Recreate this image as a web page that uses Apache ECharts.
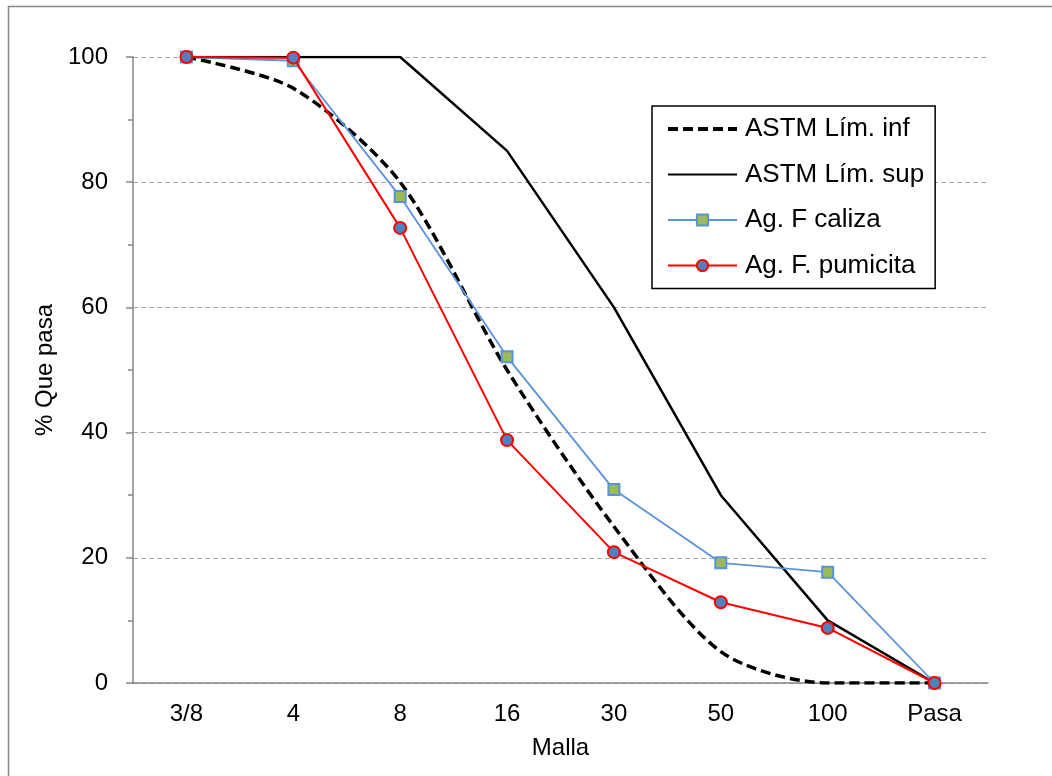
<!DOCTYPE html>
<html lang="es">
<head>
    <meta charset="UTF-8">
    <title>Granulometría</title>
    <script type="text/javascript" src="https://cdn.jsdelivr.net/npm/echarts@6/dist/echarts.min.js"></script>
</head>
<body style="margin:0;background:#fff;">
    <div id="main" style="width: 1052px;height:776px;"></div>
    <script type="text/javascript">
        // datos
        var mallas = ['3/8', '4', '8', '16', '30', '50', '100', 'Pasa'];
        var limInf = [100, 95, 80, 50, 25, 5, 0, 0];
        var limSup = [100, 100, 100, 85, 60, 30, 10, 0];
        var caliza = [100, 99.4, 77.7, 52.1, 30.9, 19.2, 17.7, 0];
        var pumicita = [100, 99.9, 72.7, 38.8, 20.9, 12.9, 8.8, 0];

        var myChart = echarts.init(document.getElementById('main'));

        var fuente = 'Liberation Sans, Arial, sans-serif';

        var option = {
            backgroundColor: '#fff',
            animation: false,
            textStyle: { fontFamily: fuente },
            graphic: [{
                type: 'rect',
                shape: { x: 8.5, y: 6.5, width: 1100, height: 1100 },
                style: { fill: 'none', stroke: '#898989', lineWidth: 1.5 },
                silent: true
            }],
            grid: { left: 133, right: 64, top: 57, bottom: 93 },
            legend: {
                orient: 'vertical',
                left: 652,
                top: 106,
                width: 285,
                padding: [8, 11, 8, 14],
                itemWidth: 69,
                itemHeight: 14,
                itemGap: 15.5,
                borderColor: '#000',
                borderWidth: 1.5,
                backgroundColor: '#fff',
                textStyle: { fontSize: 26, color: '#000', lineHeight: 30, padding: [0, 0, 0, 3], fontFamily: fuente },
                data: [
                    { name: 'ASTM Lím. inf', itemStyle: { opacity: 0 }, lineStyle: { width: 4 } },
                    { name: 'ASTM Lím. sup', itemStyle: { opacity: 0 } },
                    'Ag. F caliza',
                    'Ag. F. pumicita'
                ]
            },
            xAxis: {
                type: 'category',
                data: mallas,
                boundaryGap: true,
                name: 'Malla',
                nameLocation: 'middle',
                nameGap: 53,
                nameTextStyle: { fontSize: 24, color: '#000', fontFamily: fuente },
                axisLine: { lineStyle: { color: '#868686', width: 1.5 } },
                axisTick: { show: false },
                axisLabel: { fontSize: 24, color: '#000', margin: 19, fontFamily: fuente },
                splitLine: { show: false }
            },
            yAxis: {
                type: 'value',
                min: 0,
                max: 100,
                interval: 20,
                name: '% Que pasa',
                nameLocation: 'middle',
                nameGap: 74,
                nameTextStyle: { fontSize: 24, color: '#000', fontFamily: fuente },
                axisLine: { show: true, lineStyle: { color: '#868686', width: 1.5 } },
                axisTick: { show: true, length: 7, lineStyle: { color: '#868686', width: 1.5 } },
                minorTick: { show: true, splitNumber: 2, length: 5, lineStyle: { color: '#868686', width: 1.5 } },
                axisLabel: { fontSize: 24, color: '#000', margin: 25, fontFamily: fuente },
                splitLine: { show: true, lineStyle: { color: '#a6a6a6', width: 1.2, type: [5, 3] } }
            },
            series: [
                {
                    name: 'ASTM Lím. inf',
                    type: 'line',
                    data: limInf,
                    smooth: 0.28,
                    symbol: 'none',
                    lineStyle: { color: '#000', width: 3.5, type: [10, 5] },
                    itemStyle: { color: '#000' },
                    z: 2
                },
                {
                    name: 'ASTM Lím. sup',
                    type: 'line',
                    data: limSup,
                    symbol: 'none',
                    lineStyle: { color: '#000', width: 2.5 },
                    itemStyle: { color: '#000' },
                    z: 3
                },
                {
                    name: 'Ag. F caliza',
                    type: 'line',
                    data: caliza,
                    symbol: 'rect',
                    symbolSize: 11,
                    showAllSymbol: true,
                    lineStyle: { color: '#5b93d9', width: 1.8 },
                    itemStyle: { color: '#9bbb59', borderColor: '#5b93d9', borderWidth: 2 },
                    z: 4
                },
                {
                    name: 'Ag. F. pumicita',
                    type: 'line',
                    data: pumicita,
                    symbol: 'circle',
                    symbolSize: 12,
                    showAllSymbol: true,
                    lineStyle: { color: '#ff0000', width: 2 },
                    itemStyle: { color: '#4f81bd', borderColor: '#ff0000', borderWidth: 2 },
                    z: 5
                }
            ]
        };

        myChart.setOption(option);
    </script>
</body>
</html>
